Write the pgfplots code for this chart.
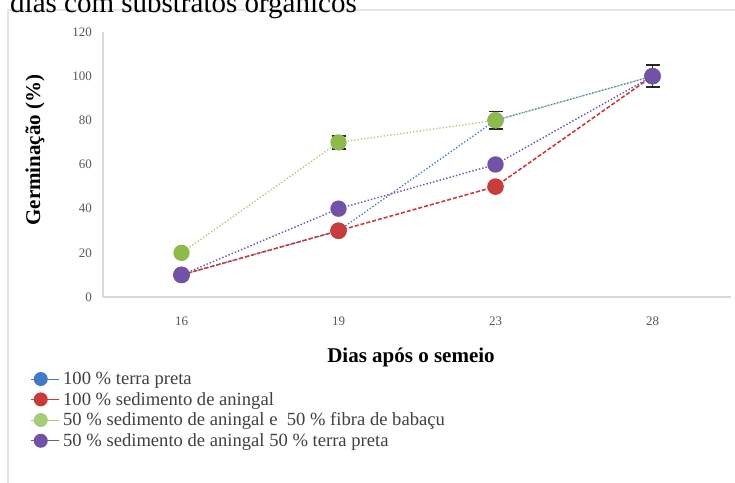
\documentclass[border=0pt]{standalone}
\usepackage{fontspec}
\setmainfont{Liberation Serif}
\usepackage{pgfplots}
\pgfplotsset{compat=1.18}
\definecolor{cblue}{HTML}{4178C8}
\definecolor{cred}{HTML}{C83C3C}
\definecolor{cgreen}{HTML}{8DBA4A}
\definecolor{cgreenl}{HTML}{A6CC78}
\definecolor{cpurple}{HTML}{7052A8}
\definecolor{tickgray}{HTML}{595959}
\definecolor{leggray}{HTML}{404040}
\definecolor{axgray}{HTML}{D9D9D9}
\begin{document}
\begin{tikzpicture}[x=1pt,y=1pt]
\useasboundingbox (0,0) rectangle (735,-482);
\clip (0,0) rectangle (735,-482);
\fill[white] (0,0) rectangle (735,-482);
\draw[axgray!70, line width=1.2pt] (8,-10) rectangle (760,-500);
\node[anchor=base west, inner sep=0pt, font=\fontsize{29}{32}\selectfont] at (10,-12) {dias com substratos orgânicos};
\begin{axis}[
  at={(103pt,-297pt)}, anchor=south west,
  scale only axis, width=628pt, height=265pt,
  xmin=-0.5, xmax=3.5, ymin=0, ymax=120,
  axis x line*=bottom, axis y line*=left,
  axis line style={axgray, line width=2.5pt, -},
  major tick length=0pt,
  xtick={0,1,2,3}, xticklabels={16,19,23,28},
  ytick={0,20,40,60,80,100,120},
  /pgf/number format/assume math mode=true,
  tick label style={text=tickgray, font=\fontsize{13}{15}\selectfont},
  yticklabel style={anchor=east, inner sep=0pt, xshift=-11pt},
  xticklabel style={anchor=north, inner sep=0pt, yshift=-20pt},
  xlabel={Dias após o semeio},
  ylabel={Germinação (\%)},
  label style={font=\fontsize{21}{24}\selectfont\bfseries},
  xlabel style={at={(axis description cs:0.5,0)}, anchor=center, yshift=-60pt, xshift=-6pt},
  ylabel style={at={(axis description cs:-0.1083,0.5547)}, anchor=center},
  clip=false,
  legend style={at={(axis description cs:-0.116,-0.275)}, anchor=north west, draw=none, fill=none,
    inner sep=0pt, font=\fontsize{18.6}{20}\selectfont, text=leggray,
    row sep=2.2pt, column sep=2pt},
  legend cell align=left,
  legend image code/.code={
    \draw[#1, mark=none, line width=0.8pt, solid] (0pt,0pt) -- (28pt,0pt);
    \fill[#1, draw=none] (10pt,0pt) circle (7pt);
  },
  error bars/y dir=both, error bars/y explicit,
  error bars/error bar style={black!85, line width=1.5pt, solid},
  error bars/error mark options={rotate=90, mark size=7pt, line width=1.5pt, black!85},
]
\addplot[color=cblue, line width=1.3pt, dotted, mark=*, mark size=7.5pt, mark options={solid, fill=cblue, draw=cblue}]
  coordinates {(0,10) (1,30) (2,80) (3,100)};
\addlegendentry{100 \% terra preta}
\addplot[color=cred, line width=1.6pt, dash pattern=on 4pt off 2pt, mark=*, mark size=7.5pt, mark options={solid, fill=cred, draw=cred}]
  coordinates {(0,10) (1,30) (2,50) (3,100)};
\addlegendentry{100 \% sedimento de aningal}
\addplot[color=cgreenl, line width=1.3pt, dotted, mark=*, mark size=7.5pt, mark options={solid, fill=cgreen, draw=cgreen}]
  coordinates {(0,20) +- (0,0) (1,70) +- (0,3) (2,80) +- (0,4) (3,100) +- (0,0)};
\addlegendentry{50 \% sedimento de aningal e\ \ 50 \% fibra de babaçu}
\addplot[color=cpurple, line width=1.4pt, dotted, mark=*, mark size=7.5pt, mark options={solid, fill=cpurple, draw=cpurple}]
  coordinates {(0,10) +- (0,0) (1,40) +- (0,0) (2,60) +- (0,0) (3,100) +- (0,5)};
\addlegendentry{50 \% sedimento de aningal 50 \% terra preta}
\end{axis}
\end{tikzpicture}
\end{document}
